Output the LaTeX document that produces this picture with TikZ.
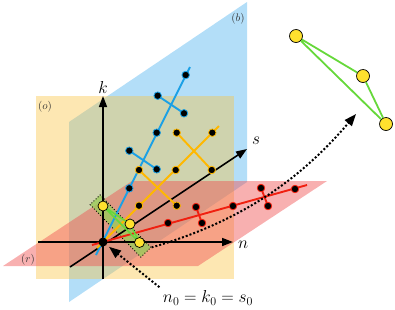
\documentclass[tikz,border=0pt]{standalone}
\usepackage{amsmath}
\usetikzlibrary{arrows.meta,positioning,calc}
\definecolor{ink}    {HTML}{000000}
\definecolor{planeB} {HTML}{B3DEF8}
\definecolor{planeO} {HTML}{FAC33F}
\definecolor{planeR} {HTML}{F05050}
\definecolor{lineB}  {HTML}{1AA0E6}
\definecolor{lineO}  {HTML}{FFB800}
\definecolor{lineR}  {HTML}{F02010}
\definecolor{lineG}  {HTML}{66D83A}
\definecolor{boxG}   {HTML}{9CCB5A}
\definecolor{sun}    {HTML}{FFE12E}

\begin{document}
\begin{tikzpicture}[x=1pt, y=-1pt,
    knot/.style={circle, fill=ink, draw=#1, line width=0.8pt, inner sep=0pt, minimum size=7.5pt},
    probe/.style={circle, fill=sun, draw=ink, line width=0.7pt, inner sep=0pt, minimum size=#1},
    axis/.style={ink, line width=1.6pt, -{Triangle[length=11pt,width=8pt]}},
    hop/.style={ink, line width=2pt, dash pattern=on 2pt off 2pt, -{Triangle[length=12pt,width=9pt]}},
    big/.style={font=\fontsize{18}{20}\selectfont},
    tag/.style={ink!80, font=\fontsize{11}{12}\selectfont}]
        \useasboundingbox (0,0) rectangle (395,309);
        % planes
        \fill[planeB] (69,122) -- (247,2) -- (247,182) -- (69,302) -- cycle;
        \fill[planeO, opacity=0.4] (36,96) rectangle (234,279);
        \fill[planeR, opacity=0.45] (3,266) -- (132,181) -- (327,181) -- (198,266) -- cycle;
        \node[tag] (tagO) at (45,107) {$(o)$};
        \node[tag] (tagB) at (238,19) {$(b)$};
        \node[tag] (tagR) at (28,260) {$(r)$};
        % window
        \node[draw=ink, dotted, line width=0.9pt, fill=boxG, fill opacity=0.8, rotate=-46,
              minimum width=73pt, minimum height=14pt, inner sep=0pt] (win) at (120.5,226) {};
        % axes
        \coordinate (k0) at (103,279); \coordinate (k1) at (103,96);
        \coordinate (n0) at (38,242);  \coordinate (n1) at (233,242);
        \coordinate (s0) at (70,267);  \coordinate (s1) at (247,149);
        \draw[axis] (k0) -- (k1);
        \draw[axis] (n0) -- (n1);
        \draw[axis] (s0) -- (s1);
        \node[big, above=1pt of k1, inner sep=1pt] (kname) {$k$};
        \node[big, right=4pt of n1, yshift=-3pt, inner sep=1pt] (nname) {$n$};
        \node[big] (sname) at (256,141) {$s$};
        % blue branch
        \coordinate (bA) at (96,255); \coordinate (bZ) at (190,67);
        \coordinate (b1) at (185.7,75);  \coordinate (b2) at (157.7,95.7);
        \coordinate (b3) at (184,113.3); \coordinate (b4) at (156.7,132.7);
        \coordinate (b5) at (129.3,150.7); \coordinate (b6) at (156.7,169.3);
        \coordinate (b7) at (129.3,188.3);
        \draw[lineB, line width=1.9pt] (bA) -- (bZ);
        \draw[lineB, line width=1.9pt] (b2) -- (b3);
        \draw[lineB, line width=1.9pt] (b5) -- (b6);
        % orange branch
        \coordinate (oA) at (97,248); \coordinate (oZ) at (219,126);
        \coordinate (o1) at (176.7,132.7); \coordinate (o2) at (212.3,132.7);
        \coordinate (o3) at (139,170);     \coordinate (o4) at (175.7,170);
        \coordinate (o5) at (211.7,170);   \coordinate (o6) at (139,205.7);
        \coordinate (o7) at (176.7,205.7);
        \draw[lineO, line width=1.9pt] (oA) -- (oZ);
        \draw[lineO, line width=1.9pt] (o1) -- (o5);
        \draw[lineO, line width=1.9pt] (o3) -- (o7);
        % red branch
        \coordinate (rA) at (92,245); \coordinate (rZ) at (307,185);
        \coordinate (r1) at (168,223); \coordinate (r2) at (196,207);
        \coordinate (r3) at (202,223); \coordinate (r4) at (233,206);
        \coordinate (r5) at (261,188); \coordinate (r6) at (268,206);
        \coordinate (r7) at (295,189);
        \draw[lineR, line width=1.9pt] (rA) -- (rZ);
        \draw[lineR, line width=1.9pt] (r2) -- (r3);
        \draw[lineR, line width=1.9pt] (r5) -- (r6);
        % knots
        \foreach \c/\l in {lineB/b1,lineB/b2,lineB/b3,lineB/b4,lineB/b5,lineB/b6,lineB/b7,
                           lineO/o1,lineO/o2,lineO/o3,lineO/o4,lineO/o5,lineO/o6,lineO/o7,
                           lineR/r1,lineR/r2,lineR/r3,lineR/r4,lineR/r5,lineR/r6,lineR/r7}
          \node[knot=\c] (k\l) at (\l) {};
        % origin
        \node[circle, fill=ink, inner sep=0pt, minimum size=9pt] (orig) at (103,242) {};
        % samples inside the window
        \coordinate (y1) at (103,206);
        \coordinate (y2) at (130,224);
        \coordinate (y3) at (139.5,242.5);
        \draw[lineG, line width=1.6pt] (y1) -- (y2) -- (y3) -- cycle;
        \foreach \l in {y1,y2,y3}
          \node[probe=10pt] (p\l) at (\l) {};
        % enlarged triangle
        \node[probe=13pt] (t1) at (296,36) {};
        \node[probe=13pt] (t2) at (363,76) {};
        \node[probe=13pt] (t3) at (386,124) {};
        \draw[lineG, line width=1.8pt] (t1) -- (t2) -- (t3) -- (t1);
        % dotted arrows
        \coordinate (tip) at (356,114);
        \draw[hop] (win.north east) .. controls (240,222) and (300,180) .. (tip);
        \node[big] (eq) at (208,298) {$n_0 = k_0 = s_0$};
        \draw[hop, shorten >=3pt] (eq.north west) -- (orig);
      \end{tikzpicture}
\end{document}
